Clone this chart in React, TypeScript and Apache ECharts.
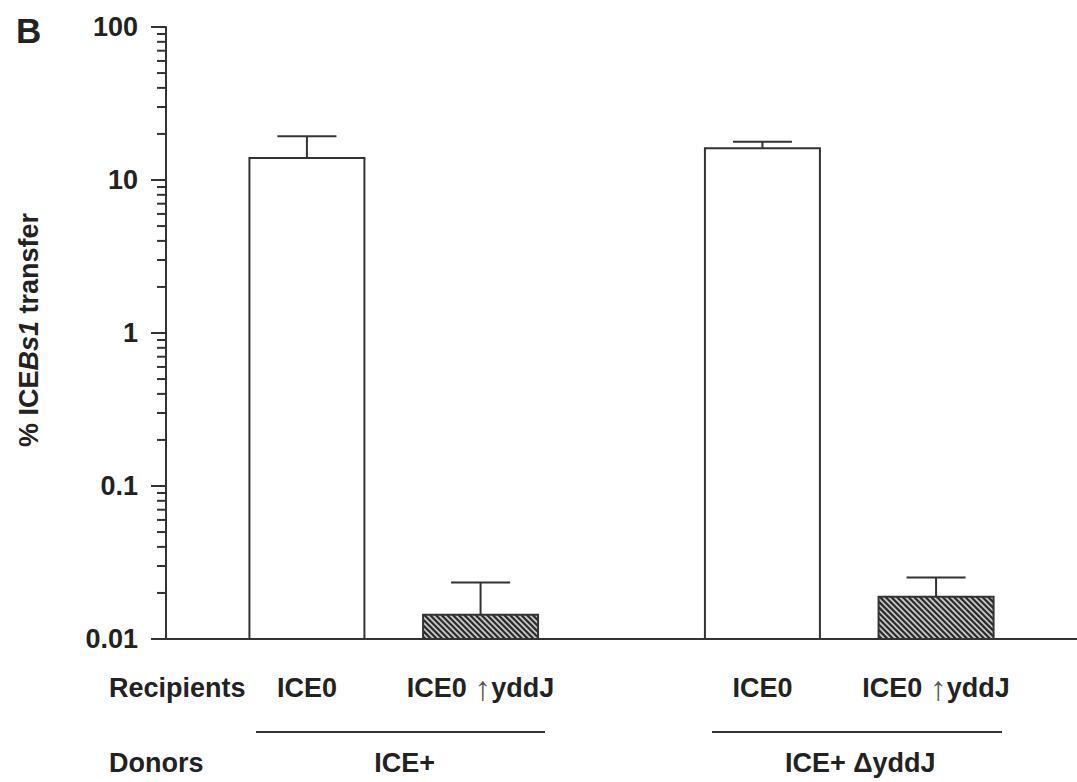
import React, { useEffect, useRef } from 'react';
import * as echarts from 'echarts';

// ---- data ----
const donorGroups = ['ICE+', 'ICE+ ΔyddJ'];
const recipientLabels = ['ICE0', 'ICE0 ↑yddJ'];
const plainMeans = [13.9, 16.1];
const plainUpper = [19.3, 17.8];
const hatchedMeans = [0.0144, 0.0189];
const hatchedUpper = [0.0234, 0.0252];
const yTickLabels = ['0.01', '0.1', '1', '10', '100'];
const yMin = 0.01;
const yMax = 100;

// ---- style ----
const FONT = '"Liberation Sans", Arial, Helvetica, sans-serif';
const INK = '#222';
const LINE = '#333';
const BAR_WIDTH = 115;
const BAR_GAP = 0.51;
const HATCH_STEP = 5.7;

const minorTicks: number[] = [];
for (let e = Math.log10(yMin); e < Math.log10(yMax) - 1e-9; e++) {
  for (let m = 2; m <= 9; m++) minorTicks.push(m * Math.pow(10, Math.round(e)));
}

const sideOffset = (side: number) => (side * BAR_WIDTH * (1 + BAR_GAP)) / 2;

const richLabel = {
  a: { fontFamily: FONT, fontSize: 34, fontWeight: 'normal', fill: '#555', color: '#555' },
};

function barSeries(means: number[], side: number, hatched: boolean, label: string) {
  return {
    type: 'custom',
    data: means.map((m, i) => [i, m]),
    encode: { x: 0, y: 1 },
    clip: false,
    silent: true,
    z: 2,
    renderItem: (params: any, api: any) => {
      const i = api.value(0);
      const top = api.coord([i, api.value(1)]);
      const base = api.coord([i, yMin]);
      const cx = top[0] + sideOffset(side);
      const x0 = cx - BAR_WIDTH / 2;
      const x1 = cx + BAR_WIDTH / 2;
      const y0 = top[1];
      const y1 = base[1];
      const children: any[] = [
        {
          type: 'rect',
          shape: { x: x0, y: y0, width: BAR_WIDTH, height: y1 - y0 },
          style: { fill: hatched ? '#c8c8c8' : '#fff', stroke: 'none' },
        },
      ];
      if (hatched) {
        // "\" stripes: y - x = c
        for (let c = y0 - x1; c <= y1 - x0; c += HATCH_STEP) {
          const xa = Math.max(x0, y0 - c);
          const xb = Math.min(x1, y1 - c);
          if (xb <= xa) continue;
          children.push({
            type: 'line',
            shape: { x1: xa, y1: xa + c, x2: xb, y2: xb + c },
            style: { stroke: '#2a2a2a', lineWidth: 2.2 },
          });
        }
      }
      children.push({
        type: 'rect',
        shape: { x: x0, y: y0, width: BAR_WIDTH, height: y1 - y0 },
        style: { fill: 'none', stroke: LINE, lineWidth: 2 },
      });
      children.push({
        type: 'text',
        x: cx,
        y: y1 + 49,
        style: {
          text: label.replace('↑', '{a|↑}'),
          fontFamily: FONT,
          fontSize: 27,
          fontWeight: 'bold',
          fill: INK,
          align: 'center',
          verticalAlign: 'middle',
          rich: richLabel,
        },
      });
      return { type: 'group', children };
    },
  };
}

function errorSeries(means: number[], uppers: number[], side: number) {
  return {
    type: 'custom',
    data: means.map((m, i) => [i, m, uppers[i]]),
    encode: { x: 0, y: [1, 2] },
    z: 5,
    silent: true,
    clip: false,
    renderItem: (params: any, api: any) => {
      const i = api.value(0);
      const top = api.coord([i, api.value(1)]);
      const hi = api.coord([i, api.value(2)]);
      const x = top[0] + sideOffset(side);
      const cap = 29.5;
      return {
        type: 'group',
        children: [
          { type: 'line', shape: { x1: x, y1: top[1], x2: x, y2: hi[1] }, style: { stroke: LINE, lineWidth: 2 } },
          { type: 'line', shape: { x1: x - cap, y1: hi[1], x2: x + cap, y2: hi[1] }, style: { stroke: LINE, lineWidth: 2 } },
        ],
      };
    },
  };
}

export default function App() {
  const ref = useRef<HTMLDivElement>(null);
  useEffect(() => {
    if (!ref.current) return;
    const chart = echarts.init(ref.current, undefined, { renderer: 'svg' });
    const lineStyle = { color: LINE, width: 2 };
    chart.setOption({
      animation: false,
      backgroundColor: '#fff',
      grid: { left: 166, top: 27, width: 918, height: 612, containLabel: false },
      xAxis: {
        type: 'category',
        data: donorGroups,
        z: 10,
        axisLine: { lineStyle },
        axisTick: { alignWithLabel: true, length: 13, lineStyle },
        axisLabel: {
          margin: 124,
          verticalAlign: 'middle',
          fontSize: 27,
          fontWeight: 'bold',
          color: INK,
          fontFamily: FONT,
          padding: [0, 0, 0, 22],
        },
        splitLine: { show: false },
      },
      yAxis: {
        type: 'log',
        logBase: 10,
        min: yMin,
        max: yMax,
        z: 10,
        axisLine: { show: true, lineStyle },
        axisTick: { show: true, length: 15, lineStyle },
        splitLine: { show: false },
        axisLabel: {
          margin: 28,
          fontSize: 27,
          fontWeight: 'bold',
          color: INK,
          fontFamily: FONT,
          formatter: (v: number) =>
            yTickLabels.find((l) => Math.abs(Math.log10(Number(l)) - Math.log10(v)) < 1e-6) ?? '',
        },
      },
      series: [
        barSeries(plainMeans, -1, false, recipientLabels[0]),
        barSeries(hatchedMeans, 1, true, recipientLabels[1]),
        errorSeries(plainMeans, plainUpper, -1),
        errorSeries(hatchedMeans, hatchedUpper, 1),
        {
          type: 'custom',
          data: minorTicks.map((v) => [0, v]),
          clip: false,
          silent: true,
          z: 6,
          renderItem: (params: any, api: any) => {
            const p = api.coord([0, api.value(1)]);
            const x0 = params.coordSys.x;
            return {
              type: 'line',
              shape: { x1: x0 - 9, y1: p[1], x2: x0, y2: p[1] },
              style: { stroke: LINE, lineWidth: 2 },
            };
          },
        },
      ],
      graphic: [
        {
          type: 'text',
          x: 16,
          y: 30,
          style: { text: 'B', fontFamily: FONT, fontSize: 35, fontWeight: 'bold', fill: INK, verticalAlign: 'middle' },
        },
        {
          type: 'text',
          x: 29,
          y: 330,
          rotation: Math.PI / 2,
          style: {
            text: '{n|% ICE}{i|Bs1}{n| transfer}',
            align: 'center',
            verticalAlign: 'middle',
            rich: {
              n: { fontFamily: FONT, fontSize: 27, fontWeight: 'bold', fill: INK },
              i: { fontFamily: FONT, fontSize: 27, fontWeight: 'bold', fontStyle: 'italic', fill: INK },
            },
          },
        },
        {
          type: 'text',
          x: 109,
          y: 688,
          style: { text: 'Recipients', fontFamily: FONT, fontSize: 27, fontWeight: 'bold', fill: INK, align: 'left', verticalAlign: 'middle' },
        },
        {
          type: 'text',
          x: 109,
          y: 763,
          style: { text: 'Donors', fontFamily: FONT, fontSize: 27, fontWeight: 'bold', fill: INK, align: 'left', verticalAlign: 'middle' },
        },
        { type: 'line', shape: { x1: 256, y1: 732, x2: 545, y2: 732 }, style: { stroke: LINE, lineWidth: 2 } },
        { type: 'line', shape: { x1: 712, y1: 732, x2: 1002, y2: 732 }, style: { stroke: LINE, lineWidth: 2 } },
      ],
    });
    return () => chart.dispose();
  }, []);
  return (
    <div
      ref={ref}
      style={{ position: 'fixed', left: 0, top: 0, width: 1077, height: 782, background: '#fff' }}
    />
  );
}
